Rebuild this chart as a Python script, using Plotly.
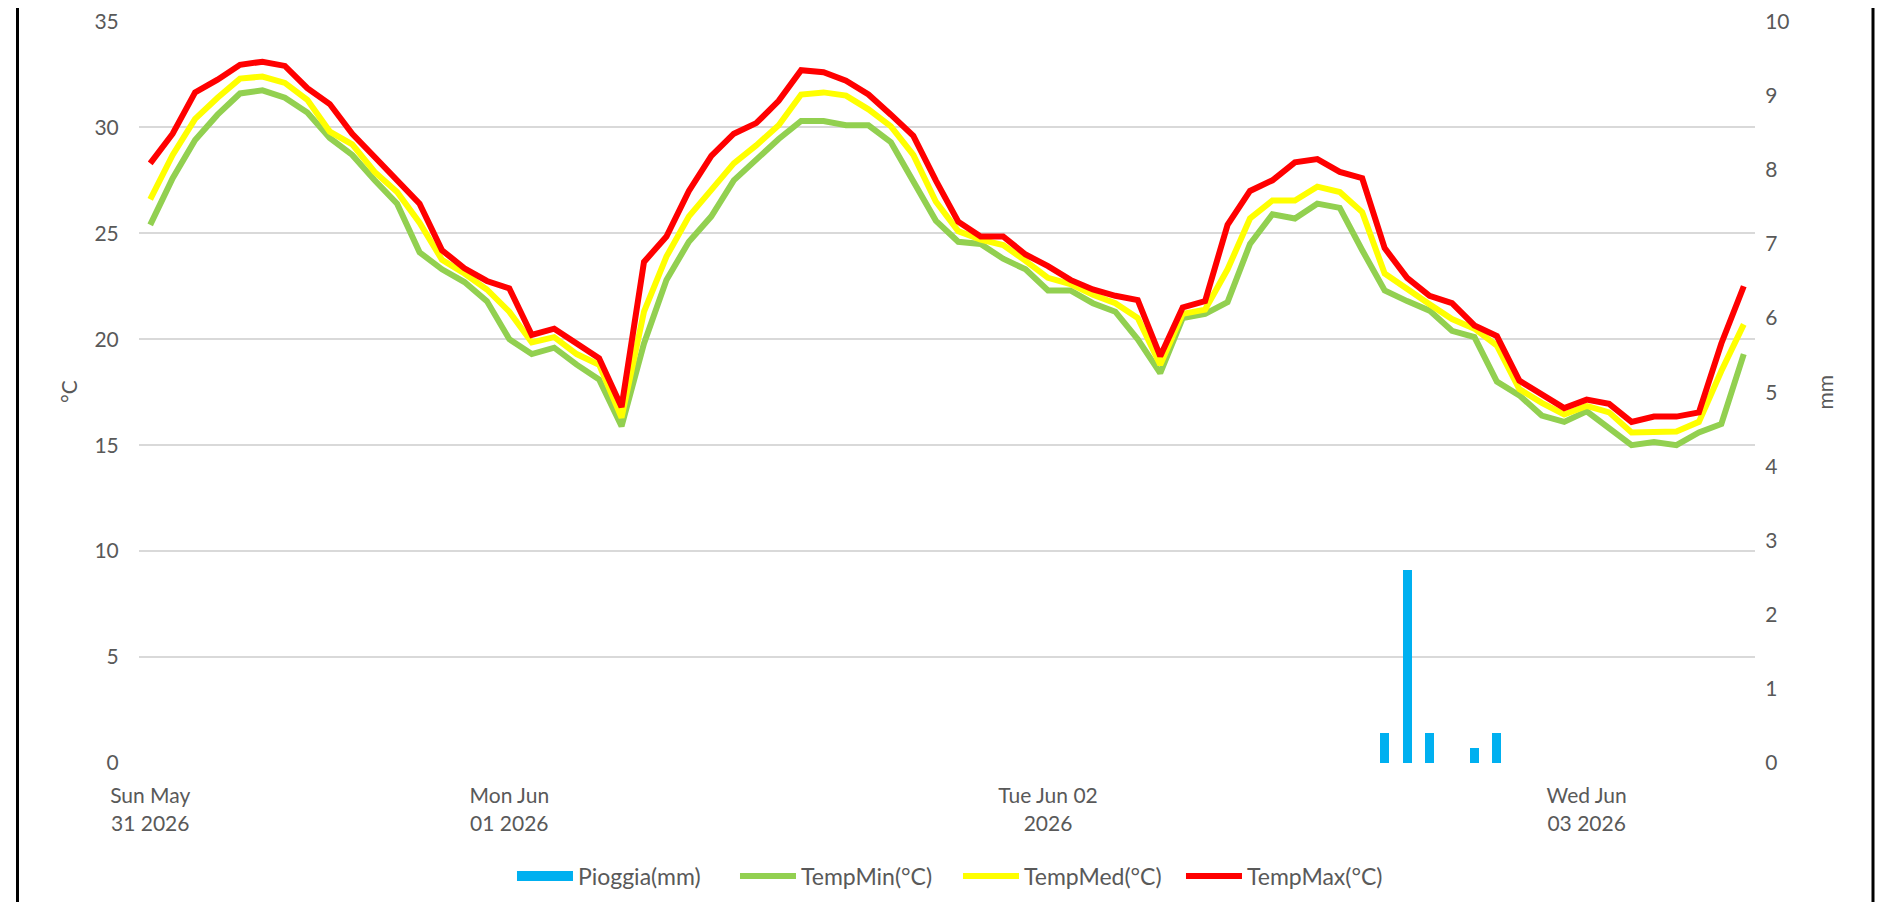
import pandas as pd
import plotly.graph_objects as go

# ---- data (hourly, from Sun May 31 2026 08:00 to Wed Jun 03 2026 07:00) ----
times = pd.date_range("2026-05-31 08:00", periods=72, freq="h")

pioggia_mm = [0]*55 + [0.4, 2.6, 0.4, 0, 0.2, 0.4] + [0]*11

temp_min = [25.4, 27.6, 29.4, 30.6, 31.6, 31.75, 31.4, 30.7, 29.5, 28.7, 27.5, 26.4,
            24.1, 23.3, 22.7, 21.8, 20.0, 19.3, 19.6, 18.8, 18.1, 15.9, 19.8, 22.8,
            24.6, 25.8, 27.5, 28.5, 29.45, 30.3, 30.3, 30.1, 30.1, 29.3, 27.5, 25.6,
            24.6, 24.5, 23.8, 23.3, 22.3, 22.3, 21.7, 21.3, 20.0, 18.4, 21.0, 21.2,
            21.75, 24.5, 25.9, 25.7, 26.4, 26.2, 24.2, 22.3, 21.8, 21.35, 20.4, 20.1,
            18.0, 17.35, 16.4, 16.1, 16.6, 15.8, 15.0, 15.15, 15.0, 15.6, 16.0, 19.3]

temp_med = [26.6, 28.7, 30.4, 31.4, 32.3, 32.4, 32.1, 31.3, 29.8, 29.2, 27.9, 26.95,
            25.5, 23.75, 23.1, 22.35, 21.3, 19.85, 20.1, 19.3, 18.8, 16.3, 21.3, 23.9,
            25.8, 27.0, 28.3, 29.15, 30.1, 31.55, 31.65, 31.5, 30.85, 30.05, 28.7, 26.5,
            25.1, 24.7, 24.45, 23.7, 22.9, 22.6, 22.1, 21.7, 21.0, 18.8, 21.2, 21.4,
            23.3, 25.7, 26.55, 26.55, 27.2, 26.95, 26.0, 23.1, 22.35, 21.65, 20.95, 20.5,
            19.7, 17.65, 17.0, 16.45, 16.85, 16.55, 15.6, 15.65, 15.65, 16.1, 18.5, 20.7]

temp_max = [28.3, 29.7, 31.65, 32.25, 32.95, 33.1, 32.9, 31.85, 31.1, 29.7, 28.6, 27.5,
            26.4, 24.2, 23.35, 22.75, 22.4, 20.2, 20.5, 19.8, 19.1, 16.8, 23.65, 24.85,
            27.0, 28.65, 29.7, 30.2, 31.25, 32.7, 32.6, 32.2, 31.55, 30.6, 29.6, 27.5,
            25.55, 24.85, 24.85, 24.0, 23.45, 22.8, 22.35, 22.05, 21.85, 19.2, 21.5, 21.8,
            25.4, 27.0, 27.5, 28.35, 28.5, 27.9, 27.6, 24.3, 22.9, 22.05, 21.7, 20.65,
            20.15, 18.05, 17.4, 16.75, 17.15, 16.95, 16.1, 16.35, 16.35, 16.55, 19.8, 22.5]

tick_vals = ["2026-05-31 08:00", "2026-06-01 00:00", "2026-06-02 00:00", "2026-06-03 00:00"]
tick_text = ["Sun May<br>31 2026", "Mon Jun<br>01 2026", "Tue Jun 02<br>2026", "Wed Jun<br>03 2026"]

FONT = "Lato, 'Open Sans', sans-serif"
GRAY = "#595959"
FS = 21

# figure geometry (page has an 8px body margin)
W, H = 1888, 894
ML, MR, MT, MB = 131, 141, 13, 139
PW = W - ML - MR
PH = H - MT - MB

fig = go.Figure()
fig.add_trace(go.Bar(x=times, y=pioggia_mm, name="Pioggia(mm)", yaxis="y2",
                     marker=dict(color="#00B0F0", line=dict(width=0)),
                     width=0.41 * 3600 * 1000, showlegend=False, legendgroup="p"))
# legend sample for the rain bars (wide rectangle like the reference)
fig.add_trace(go.Scatter(x=[None], y=[None], name="Pioggia(mm)", mode="lines",
                         legendgroup="p", yaxis="y2",
                         line=dict(color="#00B0F0", width=17)))
fig.add_trace(go.Scatter(x=times, y=temp_min, name="TempMin(°C)", mode="lines",
                         line=dict(color="#92D050", width=6)))
fig.add_trace(go.Scatter(x=times, y=temp_med, name="TempMed(°C)", mode="lines",
                         line=dict(color="#FFFF00", width=6)))
fig.add_trace(go.Scatter(x=times, y=temp_max, name="TempMax(°C)", mode="lines",
                         line=dict(color="#FF0000", width=6)))

fig.update_layout(
    width=W, height=H,
    margin=dict(l=ML, r=MR, t=MT, b=MB, autoexpand=False),
    paper_bgcolor="white", plot_bgcolor="white",
    font=dict(family=FONT, size=FS, color=GRAY),
    showlegend=True,
    legend=dict(orientation="h", x=0.5068, xanchor="center",
                y=(755 - 868) / PH, yanchor="middle",
                font=dict(family=FONT, size=23, color=GRAY), itemwidth=56,
                entrywidth=152, entrywidthmode="pixels",
                traceorder="normal", bgcolor="rgba(0,0,0,0)"),
    xaxis=dict(type="date",
               range=["2026-05-31 07:30", "2026-06-03 07:30"],
               tickmode="array", tickvals=tick_vals, ticktext=tick_text,
               showgrid=False, zeroline=False, showline=False,
               ticks="outside", ticklen=14, tickcolor="rgba(0,0,0,0)",
               tickfont=dict(family=FONT, size=FS, color=GRAY)),
    yaxis=dict(range=[0, 35.02], dtick=5, tick0=0, showgrid=True, gridcolor="#D9D9D9",
               gridwidth=1.5, zeroline=False, showline=False,
               ticks="outside", ticklen=15, tickcolor="rgba(0,0,0,0)",
               ticklabeloverflow="allow",
               tickfont=dict(family=FONT, size=FS, color=GRAY)),
    yaxis2=dict(range=[0, 10.006], dtick=1, tick0=0, overlaying="y", side="right",
                showgrid=False, zeroline=False, showline=False,
                ticks="outside", ticklen=5, tickcolor="rgba(0,0,0,0)",
                ticklabeloverflow="allow",
                tickfont=dict(family=FONT, size=FS, color=GRAY)),
    bargap=0,
)

fig.add_annotation(text="°C", xref="paper", yref="paper", x=-0.0439, y=0.5,
                   textangle=-90, showarrow=False, xanchor="center", yanchor="middle",
                   font=dict(family=FONT, size=FS, color=GRAY))
fig.add_annotation(text="mm", xref="paper", yref="paper", x=1.043, y=0.5,
                   textangle=-90, showarrow=False, xanchor="center", yanchor="middle",
                   font=dict(family=FONT, size=FS, color=GRAY))

# black frame of the chart container (left and right sides visible on the page)
for px in (17.5, 1873.0):
    xp = (px - 8 - ML) / PW
    fig.add_shape(type="line", xref="paper", yref="paper",
                  x0=xp, x1=xp, y0=-0.5, y1=1.5,
                  line=dict(color="black", width=3), layer="above")

fig.write_html("out.html")
